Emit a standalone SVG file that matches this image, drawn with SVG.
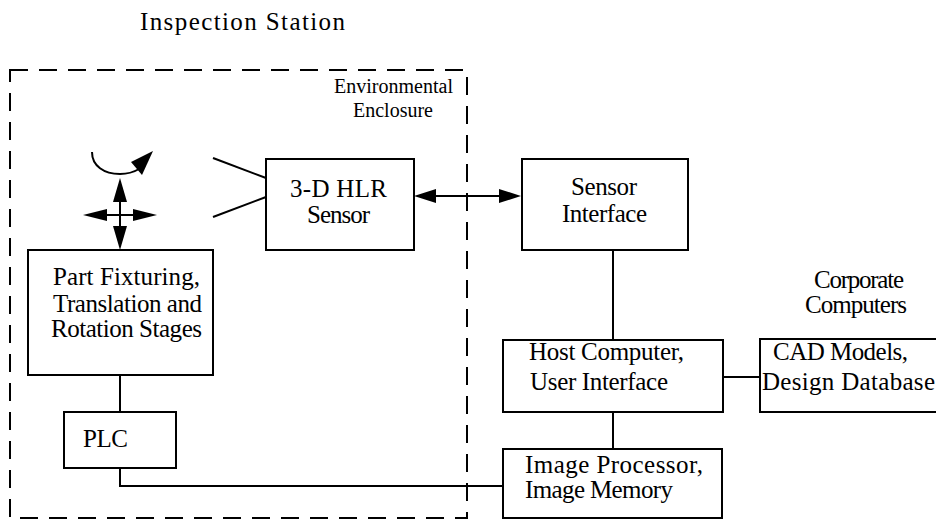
<svg xmlns="http://www.w3.org/2000/svg" width="936" height="521" viewBox="0 0 936 521">
<style>
.t{font-family:"Liberation Serif","DejaVu Serif","Noto Serif",serif;font-size:25px;fill:#000}
.s{font-size:20px}
.b{fill:#fff;stroke:#000;stroke-width:2}
.l{fill:none;stroke:#000;stroke-width:2}
.h{fill:#000;stroke:none}
</style>
<rect width="936" height="521" fill="#fff"/>
<g id="title"><text class="t" font-family="Liberation Serif, serif" x="140" y="30" textLength="205">Inspection Station</text></g>
<g id="enclosure">
<rect x="10" y="70" width="457" height="448" fill="none" stroke="#000" stroke-width="2" stroke-dasharray="18 11"/>
<text class="t s" x="334" y="93" textLength="119">Environmental</text>
<text class="t s" x="353" y="117" textLength="80">Enclosure</text>
</g>
<g id="connectors">
<line class="l" x1="120" y1="375" x2="120" y2="412"/>
<polyline class="l" points="120,468 120,486 503,486"/>
<line class="l" x1="613" y1="250" x2="613" y2="340"/>
<line class="l" x1="613" y1="412" x2="613" y2="449"/>
<line class="l" x1="723" y1="377" x2="760" y2="377"/>
<line class="l" x1="430" y1="196" x2="504" y2="196"/>
<polygon class="h" points="414,196 436,189 436,203"/>
<polygon class="h" points="521,196 499,189 499,203"/>
<line class="l" x1="213" y1="158" x2="266" y2="178"/>
<line class="l" x1="213" y1="217" x2="266" y2="197"/>
</g>
<g id="motion">
<line class="l" x1="120" y1="195" x2="120" y2="232"/>
<line class="l" x1="102" y1="215" x2="138" y2="215"/>
<polygon class="h" points="120,178 113,202 127,202"/>
<polygon class="h" points="120,250 113,226 127,226"/>
<polygon class="h" points="83,215 107,209 107,221"/>
<polygon class="h" points="157,215 133,209 133,221"/>
<path class="l" d="M92,152 C92,166 104,174 120,174 C128,174 134,172 139,169"/>
<polygon class="h" points="153,151 131,162 142,175"/>
</g>
<g id="part-fixturing">
<rect class="b" x="28" y="250" width="185" height="125"/>
<text class="t" x="53" y="285" textLength="147">Part Fixturing,</text>
<text class="t" x="53" y="312" textLength="149">Translation and</text>
<text class="t" x="51" y="337" textLength="151">Rotation Stages</text>
</g>
<g id="plc">
<rect class="b" x="64" y="412" width="112" height="56"/>
<text class="t" x="83" y="447" textLength="45">PLC</text>
</g>
<g id="hlr-sensor">
<rect class="b" x="266" y="159" width="148" height="91"/>
<text class="t" x="290" y="197" textLength="97">3-D HLR</text>
<text class="t" x="307" y="223" textLength="63">Sensor</text>
</g>
<g id="sensor-interface">
<rect class="b" x="522" y="159" width="166" height="91"/>
<text class="t" x="571" y="195" textLength="66">Sensor</text>
<text class="t" x="562" y="222" textLength="85">Interface</text>
</g>
<g id="host-computer">
<rect class="b" x="503" y="340" width="220" height="72"/>
<text class="t" x="529" y="360" textLength="155">Host Computer,</text>
<text class="t" x="530" y="390" textLength="138">User Interface</text>
</g>
<g id="cad-models">
<text class="t" x="814" y="288" textLength="90">Corporate</text>
<text class="t" x="805" y="313" textLength="102">Computers</text>
<rect class="b" x="760" y="339" width="190" height="73"/>
<text class="t" x="773" y="360" textLength="135">CAD Models,</text>
<text class="t" x="762" y="390" textLength="173">Design Database</text>
</g>
<g id="image-processor">
<rect class="b" x="503" y="449" width="219" height="69"/>
<text class="t" x="525" y="473" textLength="178">Image Processor,</text>
<text class="t" x="525" y="498" textLength="148">Image Memory</text>
</g>
</svg>
